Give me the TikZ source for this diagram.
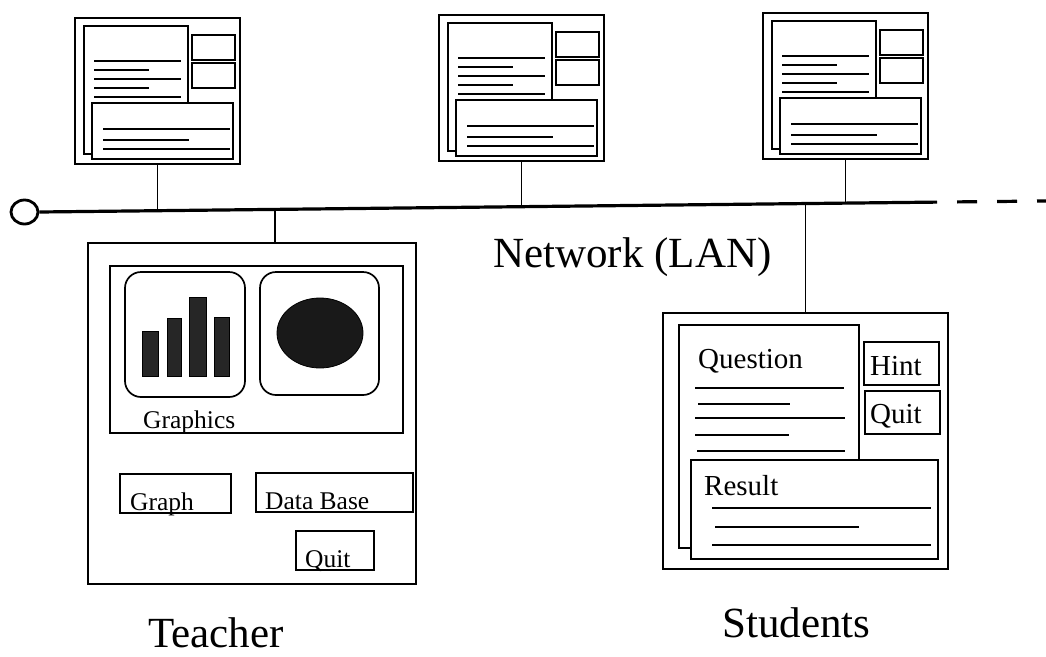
\documentclass[tikz,border=0pt]{standalone}
\usepackage{fontspec}
\setmainfont{Liberation Serif}
\usetikzlibrary{shapes.geometric}

% box from corner (x1,y1) to corner (x2,y2), y measured downwards
\newcommand\boxat[6][]{%
  \pgfmathsetmacro\bxw{#5-#3}%
  \pgfmathsetmacro\bxh{#6-#4}%
  \node[box,anchor=north west,minimum width=\bxw pt,minimum height=\bxh pt,#1] (#2) at (#3,#4) {};%
}

\tikzset{
  box/.style={draw, line width=1.7pt, inner sep=0pt, outer sep=0pt, fill=white},
  rule/.style={line width=2.4pt},
  thinrule/.style={line width=1.6pt},
  wire/.style={line width=1.3pt},
  bus/.style={line width=3.2pt},
  bar/.style={draw, fill=black!85, line width=0.8pt, inner sep=0pt, anchor=south west},
  lbl/.style={inner sep=0pt, anchor=base west},
  big/.style={lbl, font=\fontsize{43pt}{50pt}\selectfont},
  btn/.style={lbl, font=\fontsize{25.5pt}{30pt}\selectfont},
  stxt/.style={lbl, font=\fontsize{29pt}{34pt}\selectfont},
  wstation/.pic={
    \boxat{-outer}{0}{0}{165}{146}
    \boxat{-doc}{9}{8}{113}{136}
    \boxat{-btna}{117}{17}{160}{42}
    \boxat{-btnb}{117}{45}{160}{70}
    \foreach \yy/\xe in {43/106,52/74,61/106,70/74,79/106}
      \draw[rule] (19,\yy) -- (\xe,\yy);
    \boxat{-res}{17}{85}{158}{141}
    \foreach \yy/\xe in {111/155,122/114,131/155}
      \draw[rule] (28,\yy) -- (\xe,\yy);
  }
}

\begin{document}
\begin{tikzpicture}[x=1pt,y=-1pt]
\useasboundingbox (0,0) rectangle (1046,656);

% --- student workstations on the top row
\pic (wsA) at (75,18) {wstation};
\pic (wsB) at (439,15) {wstation};
\pic (wsC) at (763,13) {wstation};

% --- the network bus
\node[draw, ellipse, line width=2.8pt, minimum width=27pt, minimum height=24pt, inner sep=0pt] (term) at (24.5,212) {};
\coordinate (busA) at (157.5,209.8);
\coordinate (busT) at (275,208.6);
\coordinate (busB) at (521.5,206.2);
\coordinate (busS) at (805.5,203.4);
\coordinate (busC) at (845.5,203.0);
\coordinate (busEnd) at (937,202.1);
\coordinate (dashStart) at (957,201.9);
\coordinate (dashEnd) at (1046,201);
\draw[bus] (term.east) -- (busEnd);
\draw[bus, dash pattern=on 20pt off 20pt] (dashStart) -- (dashEnd);

\draw[wire] (wsA-outer.south) -- (busA);
\draw[wire] (wsB-outer.south) -- (busB);
\draw[wire] (wsC-outer.south) -- (busC);

\node[big] (netlabel) at (493,267) {Network (LAN)};

% --- teacher station
\boxat{teacher}{88}{243}{416}{584}
\draw[wire] (busT) -- (busT |- teacher.north);
\boxat{gpanel}{110}{266}{403}{433}
\boxat[rounded corners=16pt]{chartA}{125}{272}{245}{397}
\boxat[rounded corners=16pt]{chartB}{260}{272}{379}{395}
\node[bar, minimum width=16pt, minimum height=45pt] (barA) at (142,377) {};
\node[bar, minimum width=14pt, minimum height=58pt] (barB) at (167,377) {};
\node[bar, minimum width=17pt, minimum height=79pt] (barC) at (189,377) {};
\node[bar, minimum width=15pt, minimum height=59pt] (barD) at (214,377) {};
\node[draw, ellipse, fill=black!90, line width=0.8pt, minimum width=86pt, minimum height=70pt, inner sep=0pt] (pie) at (320,333) {};
\node[btn] (gtext) at (143,428) {Graphics};

\boxat{graphbtn}{120}{474}{231}{513}
\node[btn] (graphtext) at (130,510) {Graph};
\boxat{dbbtn}{256}{473}{413}{512}
\node[btn] (dbtext) at (265,509) {Data Base};
\boxat{tquitbtn}{296}{531}{374}{570}
\node[btn] (tquittext) at (305,567) {Quit};

\node[big] (teacherlabel) at (148,647) {Teacher};

% --- student station
\boxat{student}{663}{313}{948}{569}
\draw[wire] (busS) -- (student.north);
\boxat{question}{679}{325}{859}{548}
\node[stxt] (qtext) at (698,368) {Question};
\foreach \xs/\yy/\xe in {695/388/844,698/404/790,695/418/845,695/435/789,697/451/845}
  \draw[thinrule] (\xs,\yy) -- (\xe,\yy);
\boxat{hintbtn}{864}{342}{939}{385}
\node[stxt] (hinttext) at (870,375) {Hint};
\boxat{squitbtn}{865}{391}{940}{434}
\node[stxt] (squittext) at (870,423) {Quit};
\boxat{result}{691}{460}{938}{559}
\node[stxt] (rtext) at (704,495) {Result};
\foreach \xs/\yy/\xe in {712/508/931,715/527/859,712/545/931}
  \draw[thinrule] (\xs,\yy) -- (\xe,\yy);

\node[big] (studentlabel) at (722,637) {Students};
\end{tikzpicture}
\end{document}
